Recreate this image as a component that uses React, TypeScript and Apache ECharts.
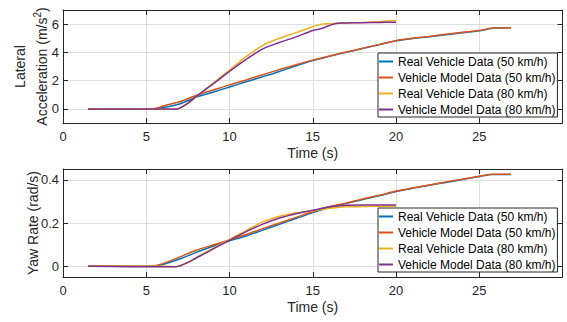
import React, { useEffect, useRef } from "react";
import * as echarts from "echarts";

// ---------- data ----------
const seriesNames = [
  "Real Vehicle Data (50 km/h)",
  "Vehicle Model Data (50 km/h)",
  "Real Vehicle Data (80 km/h)",
  "Vehicle Model Data (80 km/h)",
];
const colors = ["#0072BD", "#D95319", "#EDB120", "#7E2F8E"];

// 50 km/h time base
const t50 = [1.5, 5.3, 5.6, 6, 7, 8, 9, 10, 11, 12, 13, 14, 15, 16, 17, 18, 19, 20, 21, 22, 23, 24, 25, 25.8, 26.9];
const latReal50 = [0, 0, 0.02, 0.1, 0.35, 0.83, 1.18, 1.55, 1.92, 2.28, 2.65, 3.05, 3.42, 3.72, 4.0, 4.27, 4.55, 4.82, 4.98, 5.1, 5.24, 5.39, 5.53, 5.71, 5.74];
const latModel50 = [0, 0, 0.04, 0.2, 0.5, 0.95, 1.32, 1.7, 2.05, 2.42, 2.78, 3.13, 3.45, 3.74, 4.02, 4.29, 4.56, 4.83, 5.0, 5.13, 5.28, 5.42, 5.55, 5.73, 5.75];
const yawReal50 = [0, 0, 0.002, 0.008, 0.033, 0.064, 0.092, 0.118, 0.14, 0.167, 0.194, 0.221, 0.248, 0.272, 0.29, 0.309, 0.326, 0.346, 0.361, 0.375, 0.388, 0.401, 0.415, 0.425, 0.425];
const yawModel50 = [0, 0, 0.003, 0.012, 0.042, 0.074, 0.098, 0.122, 0.147, 0.174, 0.2, 0.226, 0.252, 0.275, 0.292, 0.311, 0.328, 0.348, 0.362, 0.376, 0.39, 0.403, 0.416, 0.426, 0.426];

// 80 km/h time base
const t80 = [1.5, 6, 6.8, 7.5, 8, 9, 10, 11, 12, 13, 14, 15, 15.5, 16, 16.5, 17, 18, 19, 20];
const latReal80 = [0, 0, 0, 0.38, 0.85, 1.8, 2.75, 3.7, 4.5, 5.0, 5.4, 5.82, 5.97, 6.03, 6.07, 6.08, 6.12, 6.18, 6.26];
const latModel80 = [0, 0, -0.02, 0.4, 0.88, 1.75, 2.66, 3.5, 4.25, 4.7, 5.1, 5.55, 5.68, 5.9, 6.07, 6.08, 6.1, 6.12, 6.14];
const yawReal80 = [0, 0, -0.002, 0.018, 0.04, 0.082, 0.124, 0.165, 0.205, 0.231, 0.247, 0.256, 0.262, 0.268, 0.272, 0.275, 0.276, 0.277, 0.277];
const yawModel80 = [0, -0.003, -0.002, 0.017, 0.038, 0.079, 0.12, 0.16, 0.195, 0.223, 0.243, 0.259, 0.267, 0.275, 0.279, 0.282, 0.283, 0.283, 0.283];

const xTicks = [0, 5, 10, 15, 20, 25];
const latTicks = [0, 2, 4, 6];
const yawTicks = [0, 0.2, 0.4];

const zip = (t: number[], v: number[]) => t.map((x, i) => [x, v[i]]);

const FONT = "Liberation Sans, Arial, Helvetica, sans-serif";
const INK = "#262626";
const GRID = "#dfdfdf";

export default function App() {
  const ref = useRef<HTMLDivElement>(null);
  useEffect(() => {
    if (!ref.current) return;
    const chart = echarts.init(ref.current, undefined, { renderer: "svg" });

    const mkX = (gridIndex: number, primary: boolean) => ({
      type: "value",
      gridIndex,
      position: primary ? "bottom" : "top",
      min: 0,
      max: 30,
      interval: 5,
      name: primary ? "Time (s)" : "",
      nameLocation: "middle",
      nameGap: 23,
      nameMoveOverlap: false,
      nameTextStyle: { fontFamily: FONT, fontSize: 14, color: INK },
      axisLine: { show: true, onZero: false, lineStyle: { color: INK, width: 1 } },
      axisTick: { show: true, inside: true, length: 5, lineStyle: { color: INK }, customValues: xTicks },
      axisLabel: primary
        ? { show: true, customValues: xTicks, margin: 7, fontFamily: FONT, fontSize: 13, color: INK }
        : { show: false },
      splitLine: primary ? { show: true, lineStyle: { color: GRID, width: 1 } } : { show: false },
    });

    const mkY = (
      gridIndex: number,
      primary: boolean,
      min: number,
      max: number,
      ticks: number[],
      name: string,
      nameGap: number,
      lineHeight: number
    ) => ({
      type: "value",
      gridIndex,
      position: primary ? "left" : "right",
      min,
      max,
      name: primary ? name : "",
      nameLocation: "middle",
      nameGap,
      nameMoveOverlap: false,
      nameTextStyle: {
        fontFamily: FONT,
        fontSize: 14,
        color: INK,
        lineHeight,
        align: "center",
        rich: {
          sup: { fontFamily: FONT, fontSize: 10, color: INK, lineHeight: 10, verticalAlign: "top", padding: [1, 0, 0, 0] },
        },
      },
      axisLine: { show: true, onZero: false, lineStyle: { color: INK, width: 1 } },
      axisTick: { show: true, inside: true, length: 5, lineStyle: { color: INK }, customValues: ticks },
      axisLabel: primary
        ? { show: true, customValues: ticks, margin: 4, fontFamily: FONT, fontSize: 13, color: INK }
        : { show: false },
      splitLine: primary ? { show: true, lineStyle: { color: GRID, width: 1 } } : { show: false },
    });

    const mkSeries = (name: string, color: string, data: number[][], idx: number) => ({
      type: "line",
      name,
      data,
      xAxisIndex: idx,
      yAxisIndex: idx,
      showSymbol: false,
      symbol: "none",
      smooth: 0.3,
      lineStyle: { color, width: 1.5 },
      itemStyle: { color },
      z: 3,
    });

    const mkLegend = (top: number) => ({
      orient: "vertical",
      left: 378,
      top,
      data: seriesNames.map((n) => ({ name: n, icon: "rect" })),
      backgroundColor: "#ffffff",
      borderColor: INK,
      borderWidth: 1,
      padding: [1, 2, 0, 1],
      itemGap: 1,
      itemWidth: 14,
      itemHeight: 2,
      selectedMode: false,
      textStyle: { fontFamily: FONT, fontSize: 12, color: "#000000", lineHeight: 15 },
    });

    chart.setOption({
      animation: false,
      backgroundColor: "#ffffff",
      grid: [
        { left: 63, top: 10, width: 499.5, height: 113, containLabel: false, outerBoundsMode: "none" },
        { left: 63, top: 169, width: 499.5, height: 108, containLabel: false, outerBoundsMode: "none" },
      ],
      xAxis: [mkX(0, true), mkX(0, false), mkX(1, true), mkX(1, false)],
      yAxis: [
        mkY(0, true, -1, 7, latTicks, "Lateral\nAcceleration (m/s{sup|2})", 10, 22),
        mkY(0, false, -1, 7, latTicks, "", 10, 22),
        mkY(1, true, -0.05, 0.45, yawTicks, "Yaw Rate (rad/s)", 22, 16),
        mkY(1, false, -0.05, 0.45, yawTicks, "", 22, 16),
      ],
      legend: [mkLegend(53), mkLegend(208)],
      series: [
        mkSeries(seriesNames[0], colors[0], zip(t50, latReal50), 0),
        mkSeries(seriesNames[1], colors[1], zip(t50, latModel50), 0),
        mkSeries(seriesNames[2], colors[2], zip(t80, latReal80), 0),
        mkSeries(seriesNames[3], colors[3], zip(t80, latModel80), 0),
        mkSeries(seriesNames[0], colors[0], zip(t50, yawReal50), 2),
        mkSeries(seriesNames[1], colors[1], zip(t50, yawModel50), 2),
        mkSeries(seriesNames[2], colors[2], zip(t80, yawReal80), 2),
        mkSeries(seriesNames[3], colors[3], zip(t80, yawModel80), 2),
      ],
    });
    return () => chart.dispose();
  }, []);

  return (
    <div
      ref={ref}
      style={{ position: "fixed", left: 0, top: 0, width: 567, height: 322, background: "#ffffff" }}
    />
  );
}
